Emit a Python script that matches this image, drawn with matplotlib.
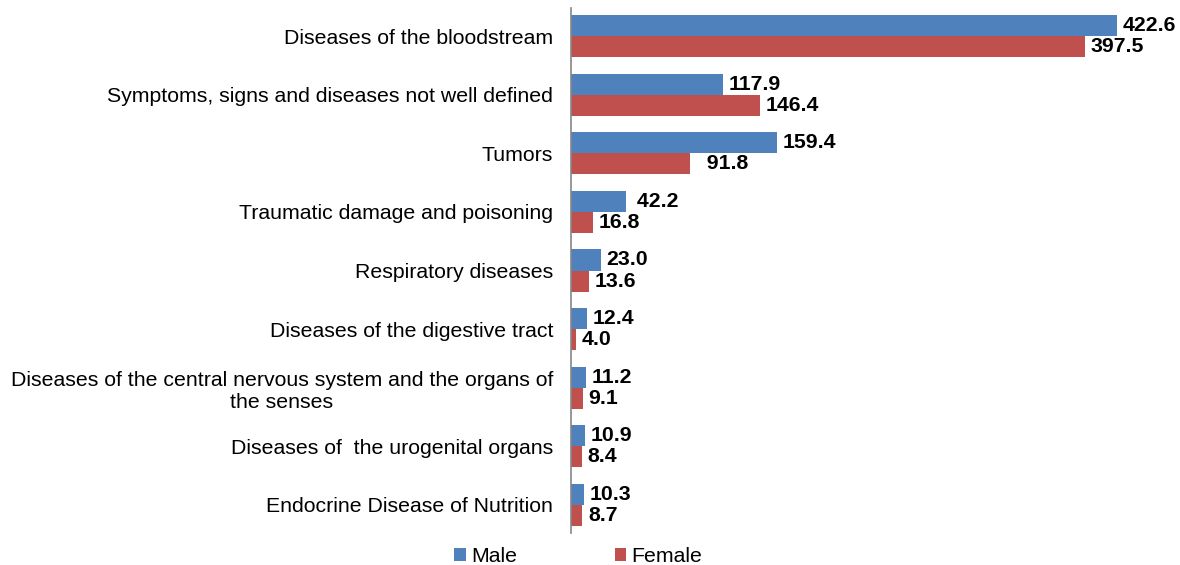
import numpy as np
import matplotlib
matplotlib.use("Agg")
import matplotlib.pyplot as plt

plt.rcParams['font.family'] = ['Liberation Sans', 'DejaVu Sans']

# data
categories = [
    "Diseases of the bloodstream",
    "Symptoms, signs and diseases not well defined",
    "Tumors",
    "Traumatic damage and poisoning",
    "Respiratory diseases",
    "Diseases of the digestive tract",
    "Diseases of the central nervous system and the organs of\nthe senses",
    "Diseases of  the urogenital organs",
    "Endocrine Disease of Nutrition",
]
male = [422.6, 117.9, 159.4, 42.2, 23.0, 12.4, 11.2, 10.9, 10.3]
female = [397.5, 146.4, 91.8, 16.8, 13.6, 4.0, 9.1, 8.4, 8.7]
male_labels = ["422.6", "117.9", "159.4", " 42.2", "23.0", "12.4", "11.2", "10.9", "10.3"]
female_labels = ["397.5", "146.4", "  91.8", "16.8", "13.6", "4.0", "9.1", "8.4", "8.7"]

fig = plt.figure(figsize=(11.8, 5.65), dpi=100)
ax = fig.add_axes([0.484, 0.0566, 0.496, 0.9292])

y = np.arange(len(categories))
h = 0.36
b1 = ax.barh(y - h / 2, male, height=h, color="#4F81BD", label="Male")
b2 = ax.barh(y + h / 2, female, height=h, color="#C0504D", label="Female")

ax.bar_label(b1, labels=male_labels, padding=4, fontsize=15.3, fontweight="bold")
ax.bar_label(b2, labels=female_labels, padding=4, fontsize=15.3, fontweight="bold")

ax.set_yticks(y)
ax.set_yticklabels(categories, fontsize=15.3, multialignment="center")
ax.tick_params(axis="y", length=0, pad=13)
ax.set_ylim(len(categories) - 0.52, -0.48)
ax.set_xlim(0, 453)
ax.set_xticks([])

for s in ["top", "right", "bottom"]:
    ax.spines[s].set_visible(False)
ax.spines["left"].set_color("#868686")
ax.spines["left"].set_linewidth(1.2)

fig.legend(loc="lower center", bbox_to_anchor=(0.49, -0.035), ncol=2, frameon=False,
           fontsize=15.3, handlelength=0.55, handleheight=0.55, handletextpad=0.25,
           columnspacing=4.6)

fig.savefig("out.png", dpi=100)
